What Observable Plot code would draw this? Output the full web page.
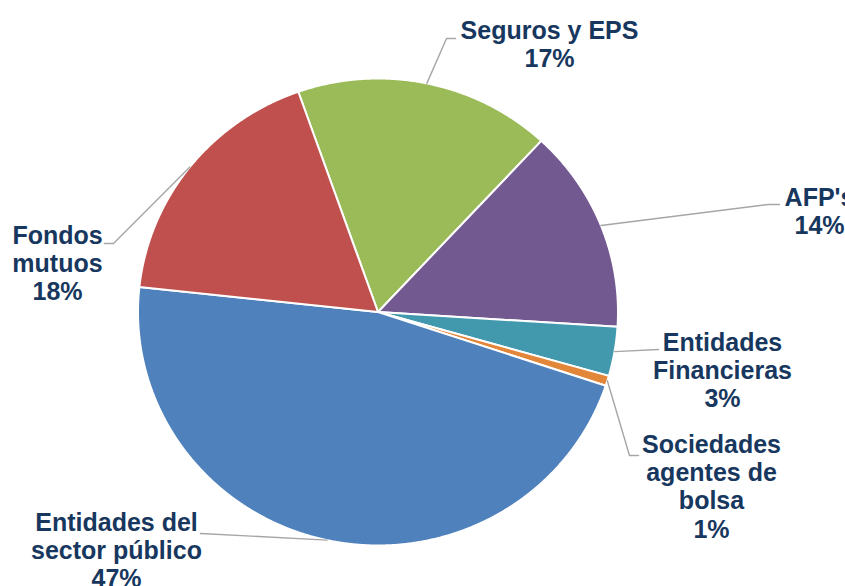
<!DOCTYPE html>
<html><head><meta charset="utf-8">
<script src="https://cdn.jsdelivr.net/npm/d3@7"></script>
<script src="https://cdn.jsdelivr.net/npm/@observablehq/plot@0.6"></script>
<style>html,body{margin:0;padding:0;background:#fff;overflow:hidden}</style>
</head><body><div id="chart"></div>
<script>
// ---- data ----
const categories = ["Seguros y EPS", "AFP's", "Entidades Financieras", "Sociedades agentes de bolsa", "Entidades del sector público", "Fondos mutuos"];
const values = [17.3, 14.1, 3.4, 0.7, 46.6, 17.9];
const labelLines = [["Seguros y EPS"], ["AFP's"], ["Entidades", "Financieras"], ["Sociedades", "agentes de", "bolsa"], ["Entidades del", "sector público"], ["Fondos", "mutuos"]];
const colors = ["#9BBB59", "#72598F", "#4299AE", "#E2873A", "#4F81BD", "#C0504D"];

// ---- layout ----
const W = 845, H = 586, cx = 377.5, cy = 311.5, rx = 240, ry = 233.5, startDeg = -19.4;
const labelAnchor = [[549, 36], [819, 203], [722, 348], [711, 450], [116, 528], [57, 241]]; // center x, first baseline
const leaderPts = [[[446, 38], [455, 38]], [[768, 204], [779, 204]], [[658, 349]], [[629, 455], [638, 455]], [[200, 533]], [[113, 243], [104, 243]]];

const a0 = startDeg * Math.PI / 180;
const arcs = d3.pie().sort(null).startAngle(a0).endAngle(a0 + 2 * Math.PI)(values);
const px = a => cx + rx * Math.sin(a), py = a => cy - ry * Math.cos(a);

const slices = [];
arcs.forEach((arc, i) => {
  const cat = categories[i];
  slices.push({cat, x: cx, y: cy});
  const n = Math.max(4, Math.ceil((arc.endAngle - arc.startAngle) / (0.25 * Math.PI / 180)));
  for (let k = 0; k <= n; k++) {
    const a = arc.startAngle + (arc.endAngle - arc.startAngle) * k / n;
    slices.push({cat, x: px(a), y: py(a)});
  }
  slices.push({cat, x: cx, y: cy});
});

const leaders = [];
arcs.forEach((arc, i) => {
  const mid = (arc.startAngle + arc.endAngle) / 2;
  leaders.push({cat: categories[i], x: px(mid), y: py(mid)});
  leaderPts[i].forEach(([x, y]) => leaders.push({cat: categories[i], x, y}));
});

const fs = 25;
const labels = categories.map((cat, i) => ({
  cat,
  x: labelAnchor[i][0],
  y: labelAnchor[i][1] - 0.71 * fs,
  text: labelLines[i].join("\n") + "\n" + Math.round(values[i]) + "%"
}));

const chart = Plot.plot({
  width: W, height: H, margin: 0,
  x: {domain: [0, W], range: [0, W], axis: null},
  y: {domain: [0, H], range: [0, H], axis: null},
  color: {domain: categories, range: colors},
  style: {fontFamily: "'Liberation Sans', Arial, sans-serif", background: "#fff"},
  marks: [
    Plot.line(slices, {x: "x", y: "y", z: "cat", fill: "cat", stroke: "#fff", strokeWidth: 2, strokeLinejoin: "round", curve: "linear"}),
    Plot.line(leaders, {x: "x", y: "y", z: "cat", stroke: "#A6A6A6", strokeWidth: 1.4, curve: "linear"}),
    Plot.text(labels, {x: "x", y: "y", text: "text", lineAnchor: "top", lineHeight: 1.13, textAnchor: "middle", fontSize: fs, fontWeight: "bold", fill: "#17375E"})
  ]
});
document.getElementById("chart").appendChild(chart);
</script>
</body></html>
